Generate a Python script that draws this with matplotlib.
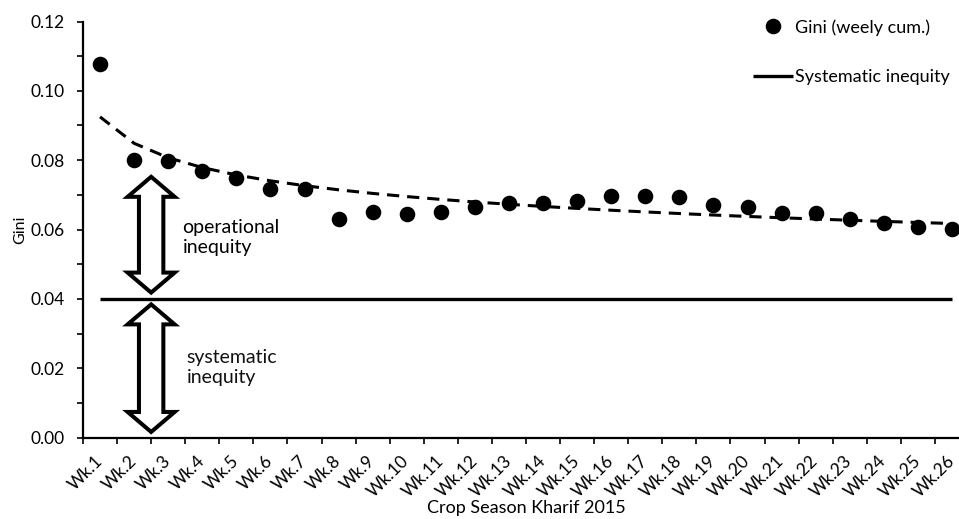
import numpy as np
import matplotlib
matplotlib.use("Agg")
import matplotlib.pyplot as plt
import matplotlib.transforms as mtransforms
from matplotlib.patches import Polygon
from matplotlib.ticker import MultipleLocator, FormatStrFormatter, FixedLocator

plt.rcParams['font.family'] = ['Lato', 'DejaVu Sans']

# ---------------- data ----------------
weeks = [f"Wk.{i}" for i in range(1, 27)]
gini_weekly_cum = [0.1078, 0.0800, 0.0798, 0.0769, 0.0749, 0.0717, 0.0717,
                   0.0630, 0.0651, 0.0645, 0.0651, 0.0665, 0.0676, 0.0676,
                   0.0682, 0.0697, 0.0697, 0.0694, 0.0671, 0.0665, 0.0648,
                   0.0648, 0.0630, 0.0619, 0.0607, 0.0602]
systematic_level = 0.04
y_ticks = [0.00, 0.02, 0.04, 0.06, 0.08, 0.10, 0.12]

# annotation arrows (value ranges)
operational_range = (0.0418, 0.0752)
systematic_range = (0.0016, 0.0384)

# ---------------- figure ----------------
W, H = 959, 519
fig = plt.figure(figsize=(W / 100, H / 100), dpi=100)
ax = fig.add_axes([83 / W, 1 - 437.5 / H, 886 / W, 416 / H])

x = np.arange(len(weeks))
y = np.array(gini_weekly_cum)

# power trendline (Excel style) fitted to the data
b, ln_a = np.polyfit(np.log(x + 1), np.log(y), 1)
trend = np.exp(ln_a) * (x + 1) ** b

ax.plot(x, trend, color='black', lw=2.2, dashes=(4, 2.6), zorder=2)
h_sys, = ax.plot(x, [systematic_level] * len(x), color='black', lw=2.4,
                 label='Systematic inequity', zorder=2, solid_capstyle='butt')
h_gini, = ax.plot(x, y, 'o', color='black', markersize=10.2,
                  label='Gini (weely cum.)', zorder=3)

# double block arrows
def double_arrow(cx, y0, y1, sw=0.358, hw=0.69, hl=0.00577):
    verts = [(cx, y1), (cx + hw, y1 - hl), (cx + sw, y1 - hl),
             (cx + sw, y0 + hl), (cx + hw, y0 + hl), (cx, y0),
             (cx - hw, y0 + hl), (cx - sw, y0 + hl), (cx - sw, y1 - hl),
             (cx - hw, y1 - hl)]
    p = Polygon(verts, closed=True, facecolor='white', edgecolor='black',
                lw=2.9, joinstyle='miter', zorder=4)
    ax.add_patch(p)

double_arrow(1.5, *operational_range)
double_arrow(1.5, *systematic_range)

ax.text(2.42, 0.0577, "operational\ninequity", fontsize=14, ha='left',
        va='center', linespacing=1.2, color='black')
ax.text(2.54, 0.0203, "systematic\ninequity", fontsize=14, ha='left',
        va='center', linespacing=1.2, color='#111111')

# axes
ax.set_xlim(-0.5, len(weeks) - 0.5)
ax.set_ylim(0, 0.12)
ax.set_xticks(x)
ax.set_xticklabels(weeks, rotation=45, ha='right', va='center',
                   rotation_mode='anchor', fontsize=12.5)
shift = mtransforms.ScaledTranslation(4 / 100, 0, fig.dpi_scale_trans)
for lab in ax.get_xticklabels():
    lab.set_transform(lab.get_transform() + shift)
ax.xaxis.set_minor_locator(FixedLocator(np.arange(-0.5, len(weeks), 1)))
ax.tick_params(axis='x', which='major', length=0, pad=15)
ax.tick_params(axis='x', which='minor', length=4, width=1.2, direction='out')

ax.yaxis.set_major_locator(FixedLocator(y_ticks))
ax.yaxis.set_minor_locator(MultipleLocator(0.01))
ax.yaxis.set_major_formatter(FormatStrFormatter('%.2f'))
ax.tick_params(axis='y', which='both', length=4.5, width=1.2, direction='out')
ax.tick_params(axis='y', which='major', labelsize=12.5, pad=8.5)

for s in ['top', 'right']:
    ax.spines[s].set_visible(False)
for s in ['left', 'bottom']:
    ax.spines[s].set_linewidth(1.6)

ax.set_ylabel('Gini', fontsize=11.5)
ax.yaxis.set_label_coords((27 - 83) / 886, 0.5)
ax.set_xlabel('Crop Season Kharif 2015', fontsize=13, va='top')
ax.xaxis.set_label_coords(0.5, (437.5 - 500) / 416)

leg = ax.legend(handles=[h_gini, h_sys], loc='upper left',
                bbox_to_anchor=(753 / W, 1 - 19 / H),
                bbox_transform=fig.transFigure, frameon=False, fontsize=13,
                handlelength=2.2, handletextpad=0.1, labelspacing=1.85,
                borderpad=0, borderaxespad=0)

fig.savefig('out.png', dpi=100)
